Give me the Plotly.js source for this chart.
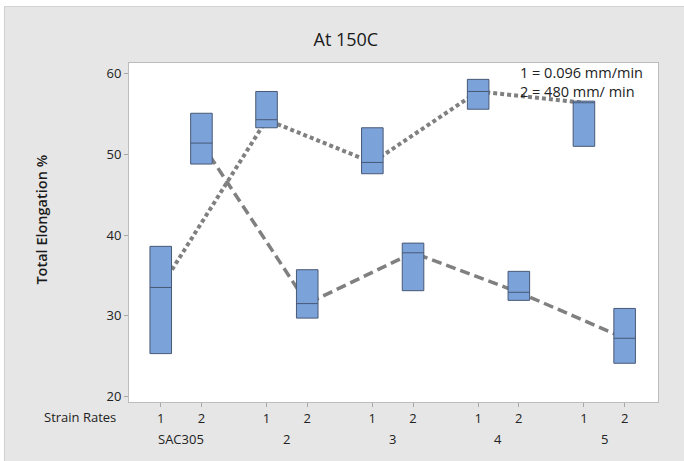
<!DOCTYPE html>
<html>
<head>
<meta charset="utf-8">
<script src="https://cdn.plot.ly/plotly-3.0.1.min.js"></script>
<style>
  html, body { margin: 0; padding: 0; background: #ffffff; }
  #wrap { position: absolute; left: 4px; top: 6px; width: 680px; height: 455px;
          border-top: 1px solid #d2d2d2; border-left: 1px solid #d2d2d2; background: #e6e6e6; }
  #chart { width: 679px; height: 454px; }
</style>
</head>
<body>
<div id="wrap"><div id="chart"></div></div>
<script>
// ---- data ----
const groups = ['SAC305', '2', '3', '4', '5'];
const rates = ['1', '2'];
const rateLegend = ['1 = 0.096 mm/min', '2 = 480 mm/ min'];

// Strain rate 1
const rate1Q3     = [38.6, 57.8, 53.3, 59.3, 56.6];
const rate1Median = [33.5, 54.3, 49.0, 57.8, 56.4];
const rate1Q1     = [25.3, 53.3, 47.6, 55.6, 51.0];
// Strain rate 2
const rate2Q3     = [55.1, 35.7, 39.0, 35.5, 30.9];
const rate2Median = [51.4, 31.5, 37.8, 32.9, 27.2];
const rate2Q1     = [48.8, 29.7, 33.1, 31.9, 24.1];

const yTicks = [20, 30, 40, 50, 60];

// ---- layout helpers ----
const GROUP_STEP = 2.6;
const pos = (g, r) => g * GROUP_STEP + r;

const stats = [
  {q1: rate1Q1, med: rate1Median, q3: rate1Q3},
  {q1: rate2Q1, med: rate2Median, q3: rate2Q3}
];

const bx = [], bq1 = [], bmed = [], bq3 = [];
groups.forEach((g, gi) => {
  rates.forEach((r, ri) => {
    bx.push(pos(gi, ri));
    bq1.push(stats[ri].q1[gi]);
    bmed.push(stats[ri].med[gi]);
    bq3.push(stats[ri].q3[gi]);
  });
});

const lineColor = 'rgb(128,128,128)';
const traces = [
  {
    type: 'scatter', mode: 'lines', xaxis: 'x', yaxis: 'y',
    x: groups.map((g, gi) => pos(gi, 0)), y: rate1Median,
    line: {color: lineColor, width: 4, dash: '4px,3px'},
    hoverinfo: 'skip', showlegend: false
  },
  {
    type: 'scatter', mode: 'lines', xaxis: 'x', yaxis: 'y',
    x: groups.map((g, gi) => pos(gi, 1)), y: rate2Median,
    line: {color: lineColor, width: 3.5, dash: '10px,5px'},
    hoverinfo: 'skip', showlegend: false
  },
  {
    type: 'box', xaxis: 'x2', yaxis: 'y2',
    x: bx, q1: bq1, median: bmed, q3: bq3,
    lowerfence: bq1, upperfence: bq3,
    width: 0.53, whiskerwidth: 0,
    fillcolor: 'rgb(123,163,217)',
    line: {color: 'rgb(72,88,118)', width: 1},
    boxpoints: false, hoverinfo: 'skip', showlegend: false
  }
];

const xr = [-0.78, 12.22];
const yr = [19.3, 61.33];

const tickVals = bx;
const tickText = bx.map((v, i) => rates[i % 2]);

const font = 'Open Sans, Noto Sans, DejaVu Sans, sans-serif';
const annotations = [];
groups.forEach((g, gi) => {
  annotations.push({
    text: g, xref: 'x', yref: 'paper', x: pos(gi, 0.5), y: 0,
    xanchor: 'center', yanchor: 'middle', yshift: -37, showarrow: false,
    font: {family: font, size: 13, color: '#222'}
  });
});
annotations.push({
  text: 'Strain Rates', xref: 'paper', yref: 'paper', x: 0, y: 0,
  xanchor: 'right', yanchor: 'middle', xshift: -11, yshift: -15, showarrow: false,
  font: {family: font, size: 13, color: '#222'}
});
annotations.push({
  text: 'Total Elongation %', xref: 'paper', yref: 'paper', x: 0, y: 0.538,
  xanchor: 'center', yanchor: 'middle', xshift: -87, textangle: -90, showarrow: false,
  font: {family: font, size: 14.5, color: '#1a1a1a', weight: 600}
});
annotations.push({
  text: rateLegend.join('<br>'), xref: 'paper', yref: 'paper', x: 0.7356, y: 0.944,
  xanchor: 'left', yanchor: 'middle', align: 'left', showarrow: false,
  font: {family: font, size: 14.5, color: '#222'}
});

const layout = {
  width: 679, height: 454,
  margin: {l: 124, r: 26, t: 56, b: 59},
  paper_bgcolor: '#e6e6e6', plot_bgcolor: '#ffffff',
  showlegend: false,
  title: {
    text: 'At 150C', x: 0.502, xref: 'container', xanchor: 'center',
    y: 0.927, yref: 'container', yanchor: 'middle',
    font: {family: font, size: 18, color: '#1a1a1a', weight: 500}
  },
  xaxis: {
    range: xr, tickvals: tickVals, ticktext: tickText,
    ticks: 'outside', ticklen: 4, tickcolor: '#a8a8a8',
    showgrid: false, zeroline: false,
    showline: true, mirror: true, linecolor: '#bcbcbc', linewidth: 1,
    tickfont: {family: font, size: 13, color: '#222'}
  },
  yaxis: {
    range: yr, tickvals: yTicks,
    ticks: 'outside', ticklen: 4, tickcolor: '#a8a8a8',
    showgrid: false, zeroline: false,
    showline: true, mirror: true, linecolor: '#bcbcbc', linewidth: 1,
    tickfont: {family: font, size: 13, color: '#222'}
  },
  xaxis2: {overlaying: 'x', range: xr, visible: false, showgrid: false, zeroline: false},
  yaxis2: {overlaying: 'y', range: yr, visible: false, showgrid: false, zeroline: false},
  annotations: annotations
};

Plotly.newPlot('chart', traces, layout, {staticPlot: true, displayModeBar: false});
</script>
</body>
</html>
